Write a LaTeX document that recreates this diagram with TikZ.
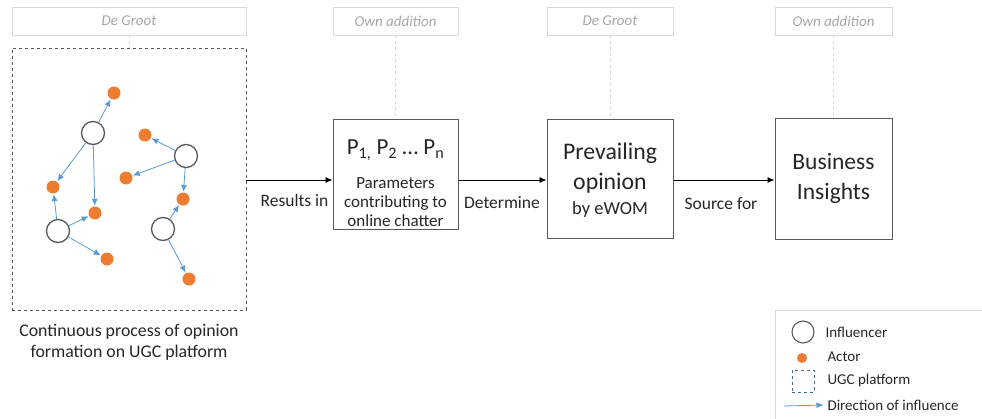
\documentclass[tikz,border=0pt]{standalone}
\usepackage{fontspec}
\setmainfont{Carlito}
\usetikzlibrary{arrows.meta}
\definecolor{orangeA}{HTML}{ED7D31}
\definecolor{blueA}{HTML}{5B9BD5}
\definecolor{grayC}{HTML}{595959}
\definecolor{grayL}{HTML}{D9D9D9}
\definecolor{grayT}{HTML}{A6A6A6}
\definecolor{txt}{HTML}{262626}
\tikzset{
  infl/.style={circle,draw=grayC,line width=1.3pt,minimum size=23pt,inner sep=0pt,fill=white},
  actor/.style={circle,fill=orangeA,minimum size=13pt,inner sep=0pt},
  infarrow/.style={-{Latex[length=7pt,width=6pt]},blueA,line width=0.8pt,shorten >=0.5pt},
  mainarrow/.style={-{Latex[length=7pt,width=6pt]},black,line width=0.9pt},
  srcbox/.style={draw=grayL,line width=0.8pt,font=\fontsize{15}{17}\selectfont\itshape,text=grayT,inner sep=0pt},
  srcline/.style={draw=grayL,dashed,line width=0.6pt},
  stepbox/.style={draw=grayC,line width=1pt,inner sep=0pt,fill=white},
  lbl/.style={font=\fontsize{17.5}{20}\selectfont,text=txt},
  legtext/.style={font=\fontsize{15}{17}\selectfont,text=txt,anchor=west}
}
\begin{document}
\begin{tikzpicture}[x=1pt,y=-1pt]
\useasboundingbox (0,0) rectangle (982,418);
\clip (0,0) rectangle (982,418);
% source label boxes
\node[srcbox,minimum width=234pt,minimum height=28pt] (s1) at (129,21) {De Groot};
\node[srcbox,minimum width=125pt,minimum height=28pt] (s2) at (395.5,21) {Own addition};
\node[srcbox,minimum width=126pt,minimum height=28pt] (s3) at (610,21) {De Groot};
\node[srcbox,minimum width=117pt,minimum height=28pt] (s4) at (833.5,21) {Own addition};
% UGC dashed platform
\node[draw=grayC,dashed,line width=0.9pt,minimum width=234pt,minimum height=262pt,inner sep=0pt] (ugc) at (129,179) {};
% step boxes
\node[stepbox,minimum width=125pt,minimum height=110pt] (b2) at (395.5,174) {};
\node[stepbox,minimum width=126pt,minimum height=119pt] (b3) at (610,178.5) {};
\node[stepbox,minimum width=117pt,minimum height=121pt] (b4) at (833.5,178.5) {};
\draw[srcline] (s1.south) -- (ugc.north);
\draw[srcline] (s2.south) -- (b2.north);
\draw[srcline] (s3.south) -- (b3.north);
\draw[srcline] (s4.south) -- (b4.north);
% box texts
\node[font=\fontsize{23}{26}\selectfont,text=txt] (p) at (395.5,150) {P\textsubscript{1,} P\textsubscript{2} \dots\ P\textsubscript{n}};
\node[font=\fontsize{17}{19}\selectfont,text=txt,align=center] (pt) at (395.5,202) {Parameters\\contributing to\\online chatter};
\node[font=\fontsize{23.8}{30}\selectfont,text=txt,align=center] (po) at (610,168) {Prevailing\\opinion};
\node[font=\fontsize{18.5}{20}\selectfont,text=txt] (pe) at (610,210) {by eWOM};
\node[font=\fontsize{23.5}{30}\selectfont,text=txt,align=center] (bi) at (833.5,178) {Business\\Insights};
% main connectors
\draw[mainarrow] (ugc.east |- 0,180) -- (b2.west |- 0,180);
\draw[mainarrow] (b2.east |- 0,180) -- (b3.west |- 0,180);
\draw[mainarrow] (b3.east |- 0,180) -- (b4.west |- 0,180);
\node[lbl] (l1) at (294.5,200) {Results in};
\node[lbl] (l2) at (502,203) {Determine};
\node[lbl] (l3) at (721,204) {Source for};
% caption
\node[lbl,align=center,font=\fontsize{17.8}{21}\selectfont] (cap) at (129,342) {Continuous process of opinion\\formation on UGC platform};
% network
\node[infl] (i1) at (93,133) {};
\node[infl] (i2) at (186,156) {};
\node[infl] (i3) at (58,231) {};
\node[infl] (i4) at (163,229) {};
\node[actor] (a1) at (114,93) {};
\node[actor] (a2) at (53,187) {};
\node[actor] (a3) at (95,213) {};
\node[actor] (a4) at (107,259) {};
\node[actor] (a5) at (145,135) {};
\node[actor] (a6) at (126,178) {};
\node[actor] (a7) at (183,199) {};
\node[actor] (a8) at (189,279) {};
\draw[infarrow] (i1) -- (a1);
\draw[infarrow] (i1) -- (a2);
\draw[infarrow] (i1) -- (a3);
\draw[infarrow] (i3) -- (a2);
\draw[infarrow] (i3) -- (a3);
\draw[infarrow] (i3) -- (a4);
\draw[infarrow] (i2) -- (a5);
\draw[infarrow] (i2) -- (a6);
\draw[infarrow] (i2) -- (a7);
\draw[infarrow] (i4) -- (a7);
\draw[infarrow] (i4) -- (a8);
% legend
\node[draw=grayL,line width=0.9pt,minimum width=230pt,minimum height=120pt,anchor=north west,inner sep=0pt] (leg) at (775,310) {};
\node[infl,minimum size=22pt,line width=1.1pt] (li) at (803,332) {};
\node[legtext] (lit) at (822,332) {Influencer};
\node[actor,minimum size=10pt] (la) at (802,358) {};
\node[legtext] (lat) at (824,357) {Actor};
\node[draw=blueA!70!black,dashed,line width=0.7pt,minimum size=22pt,inner sep=0pt] (lu) at (803,381) {};
\node[legtext] (lut) at (824,380) {UGC platform};
\coordinate (ld0) at (784,406);
\node[legtext] (ldt) at (824,405) {Direction of influence};
\draw[infarrow] (ld0) -- (ldt.west);
\end{tikzpicture}
\end{document}
